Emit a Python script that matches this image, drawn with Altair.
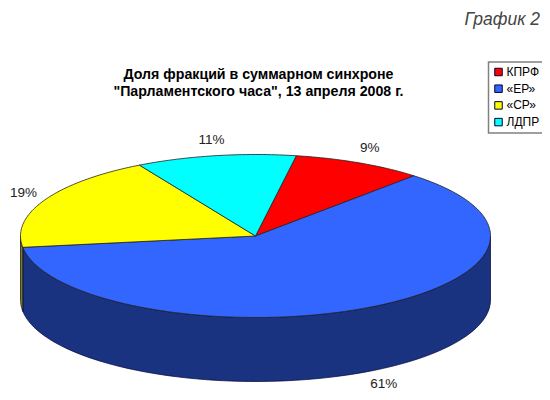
import math
import altair as alt
import pandas as pd

parties = ["КПРФ", "«ЕР»", "«СР»", "ЛДПР"]
shares = [9, 61, 19, 11]
colors = ["#FF0000", "#3366FF", "#FFFF00", "#00FFFF"]
side_colors = ["#800000", "#1A3380", "#808000", "#008080"]
title_lines = ["Доля фракций в суммарном синхроне", "\"Парламентского часа\", 13 апреля 2008 г."]
tag = ["График 2"]

# Tilted-pie projection (image pixels)
CX, CY, RX, RY, DEPTH = 255.5, 236.0, 235.0, 81.5, 64.0
START = 10.0


def pt(a, r=1.0):
    t = math.radians(a)
    return CX + RX * r * math.sin(t), CY - RY * r * math.cos(t)


top, wall, labels = [], [], []
a0 = START
for name, share, side in zip(parties, shares, side_colors):
    a1 = a0 + share * 3.6
    n = 0
    top.append({"party": name, "x": CX, "y": CY, "o": n})
    steps = max(int(a1 - a0), 2)
    for i in range(steps + 1):
        n += 1
        x, y = pt(a0 + (a1 - a0) * i / steps)
        top.append({"party": name, "x": x, "y": y, "o": n})
    top.append({"party": name, "x": CX, "y": CY, "o": n + 1})

    # visible outer wall: the front half of the rim, 90..270 degrees
    lo, hi = max(a0, 90.0), min(a1, 270.0)
    if hi > lo:
        rim = [pt(lo + (hi - lo) * i / 60) for i in range(61)]
        loop = rim + [(x, y + DEPTH) for x, y in reversed(rim)] + [rim[0]]
        for k, (x, y) in enumerate(loop):
            wall.append({"party": name, "side": side, "x": x, "y": y, "o": k})

    mid = (a0 + a1) / 2
    lx, ly = pt(mid)
    front = math.cos(math.radians(mid)) < 0
    lx = CX + (lx - CX) * (1.17 if front else 1.1)
    ly = CY + (ly - CY) * 1.2
    if front:
        ly += DEPTH - 3
    labels.append({"label": f"{share}%", "x": lx, "y": ly})
    a0 = a1

X = alt.X("x:Q", axis=None, scale=alt.Scale(domain=[8, 542]))
Y = alt.Y("y:Q", axis=None, scale=alt.Scale(domain=[392, 8]))

wall_layer = alt.Chart(pd.DataFrame(wall)).mark_line(
    stroke="#000033", strokeWidth=0.7, interpolate="linear"
).encode(
    x=X, y=Y, order="o:Q", detail="party:N",
    fill=alt.Fill("side:N", scale=None),
)

top_layer = alt.Chart(pd.DataFrame(top)).mark_line(
    stroke="#222222", strokeWidth=0.8, interpolate="linear"
).encode(
    x=X, y=Y, order="o:Q",
    fill=alt.Fill(
        "party:N",
        scale=alt.Scale(domain=parties, range=colors),
        legend=alt.Legend(
            title=None, orient="none", legendX=480.5, legendY=54,
            symbolType="square", symbolSize=56, symbolStrokeColor="#000000",
            symbolStrokeWidth=1, symbolOpacity=1, labelFont="Liberation Sans",
            labelFontSize=12, labelColor="#000000", labelOffset=2,
            rowPadding=4.7, padding=4, strokeColor="#808080",
            fillColor="#FFFFFF", labelLimit=60,
        ),
    ),
)

label_layer = alt.Chart(pd.DataFrame(labels)).mark_text(
    font="Liberation Sans", fontSize=13.5, color="#222222"
).encode(x=X, y=Y, text="label:N")

tag_layer = alt.Chart(pd.DataFrame({"t": tag, "x": [540], "y": [20]})).mark_text(
    font="Liberation Sans", fontSize=17.5, fontStyle="italic", color="#444444",
    align="right", baseline="middle",
).encode(x=X, y=Y, text="t:N")

chart = alt.layer(wall_layer, top_layer, label_layer, tag_layer).properties(
    width=534, height=384, padding=0,
    autosize=alt.AutoSizeParams(type="none"),
    view=alt.ViewBackground(stroke=None, strokeWidth=0),
    title=alt.TitleParams(
        text=title_lines, font="Liberation Sans", fontSize=14.2, fontWeight="bold",
        color="#000000", anchor="start", align="center", dx=250.5, offset=-91,
        lineHeight=17, baseline="top",
    ),
).configure_view(stroke="transparent", strokeWidth=0, fill="transparent").configure_legend(strokeWidth=1.5)

chart.save("out.html", embed_options={"renderer": "svg", "actions": False})
